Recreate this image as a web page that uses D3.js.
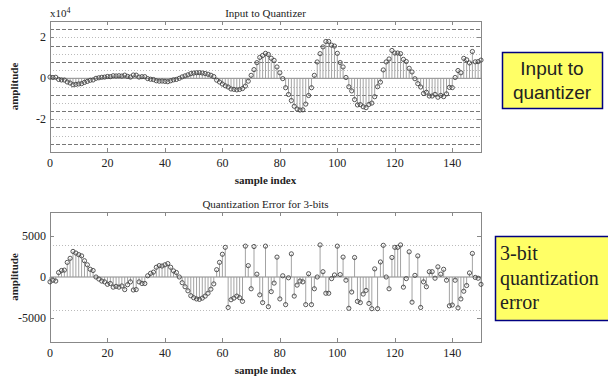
<!DOCTYPE html>
<html>
<head>
<meta charset="utf-8">
<script src="https://cdn.jsdelivr.net/npm/d3@7/dist/d3.min.js"></script>
<style>
  body { margin: 0; background: #fff; }
  svg text { fill: #222; }
</style>
</head>
<body>
<svg id="chart" width="608" height="379"></svg>
<script>
// input signal, one value per sample index 0..150
var inputSamples = [
  600, 400, 500, -550, -800, -850, -1800, -2300, -3150, -2950,
  -2750, -2600, -2000, -1500, -950, -800, 0, 250, 500, 600,
  900, 800, 1250, 1150, 1250, 1100, 1550, 950, 600, 1600,
  1550, 600, 800, 800, -150, -450, -600, -1200, -1400, -1350,
  -1500, -1650, -1200, -750, -550, 0, 700, 1200, 1700, 2300,
  2550, 2700, 2750, 2600, 2350, 2000, 1500, 850, -900, -1800,
  -2800, -3650, -4250, -5200, -5400, -5650, -5450, -5000, -3800, -1400,
  1450, 4250, 7650, 10200, 11150, 12200, 11650, 9800, 8750, 5550,
  2700, -150, -4600, -7900, -10850, -13650, -15000, -15500, -15400, -12600,
  -8400, -4600, 1450, 8000, 12050, 15350, 18000, 18000, 16200, 15750,
  12200, 7700, 5550, 400, -4150, -6150, -10400, -13000, -12850, -13900,
  -14350, -12750, -12100, -9000, -4100, -1850, 4100, 8000, 9450, 13600,
  12350, 12350, 12050, 9250, 8200, 4900, 3100, -200, -2600, -4250,
  -7400, -6800, -8650, -8650, -7850, -9250, -8350, -8950, -7600, -4450,
  -4550, 400, 3800, 2700, 9750, 9050, 7500, 13100, 8050, 8150,
  8900
];

// quantization error for 3 bits
var errorSamples = [
  -600, -400, -500, 550, 800, 850, 1800, 2300, 3150, 2950,
  2750, 2600, 2000, 1500, 950, 800, 0, -250, -500, -600,
  -900, -800, -1250, -1150, -1250, -1100, -1550, -950, -600, -1600,
  -1550, -600, -800, -800, 150, 450, 600, 1200, 1400, 1350,
  1500, 1650, 1200, 750, 550, 0, -700, -1200, -1700, -2300,
  -2550, -2700, -2750, -2600, -2350, -2000, -1500, -850, 900, 1800,
  2800, 3650, -3750, -2800, -2600, -2350, -2550, -3000, 3800, 1400,
  -1450, 3750, 350, -2200, -3150, 3800, -3650, -1800, -750, 2450,
  -2700, 150, -3400, -100, 2850, -2350, -1000, -500, -600, -3400,
  400, -3400, -1450, 0, 3950, 650, -2000, -2000, -200, 250,
  3800, 300, 2450, -400, -3850, -1850, 2400, -3000, -3150, -2100,
  -1650, -3250, -3900, 1000, -3900, 1850, 3900, 0, -1450, 2400,
  3650, 3650, 3950, -1250, -200, 3100, -3100, 200, 2600, -3750,
  -600, -1200, 650, 650, -150, 1250, 350, 950, -400, -3550,
  -3450, -400, -3800, -2700, -1750, -1050, 500, 2900, -50, -150,
  -900
];

var xTicks = [0, 20, 40, 60, 80, 100, 120, 140];
var inputTicks = [-20000, 0, 20000];
var inputTickLabels = ["-2", "0", "2"];
var errorTicks = [-5000, 0, 5000];
var errorTickLabels = ["-5000", "0", "5000"];

// quantizer output levels (dashed) and decision levels (dotted)
var outputLevels = [-32000, -24000, -16000, -8000, 8000, 16000, 24000];
var decisionLevels = [-28000, -20000, -12000, -4000, 4000, 12000, 20000];
var errorBounds = [-4000, 4000];

var SERIF = "'Liberation Serif', 'Times New Roman', 'DejaVu Serif', serif";
var SANS = "'Liberation Sans', Arial, sans-serif";

var svg = d3.select("#chart");
var left = 50, right = 481;

var x = d3.scaleLinear().domain([0, 150]).range([left, right]);

function label(g, px, py, size, txt) {
    return g.append("text").attr("x", px).attr("y", py)
        .style("font-family", SERIF).style("font-size", size + "px").text(txt);
}

function drawPanel(cfg) {
    var y = d3.scaleLinear().domain(cfg.domain).range([cfg.bottom, cfg.top]);
    var g = svg.append("g");

    // grid levels
    g.selectAll(".dotted").data(cfg.dotted).enter().append("line")
        .attr("x1", left).attr("x2", right)
        .attr("y1", function(d) { return Math.round(y(d)) + 0.5; })
        .attr("y2", function(d) { return Math.round(y(d)) + 0.5; })
        .attr("stroke", "#bbb").attr("stroke-dasharray", "1,2");
    g.selectAll(".dashed").data(cfg.dashed).enter().append("line")
        .attr("x1", left).attr("x2", right)
        .attr("y1", function(d) { return Math.round(y(d)) + 0.5; })
        .attr("y2", function(d) { return Math.round(y(d)) + 0.5; })
        .attr("stroke", "#777").attr("stroke-dasharray", "4,2");

    // frame
    g.append("rect")
        .attr("x", left + 0.5).attr("y", cfg.top + 0.5)
        .attr("width", right - left).attr("height", cfg.bottom - cfg.top)
        .attr("fill", "none").attr("stroke", "#888");

    // x ticks, inward on bottom and top
    xTicks.forEach(function(t) {
        var px = Math.round(x(t)) + 0.5;
        g.append("line").attr("x1", px).attr("x2", px)
            .attr("y1", cfg.bottom).attr("y2", cfg.bottom - 4).attr("stroke", "#888");
        g.append("line").attr("x1", px).attr("x2", px)
            .attr("y1", cfg.top).attr("y2", cfg.top + 4).attr("stroke", "#888");
        label(g, x(t), cfg.bottom + 15, 12, t).attr("text-anchor", "middle");
    });

    // y ticks, inward on left and right
    cfg.yTicks.forEach(function(t, i) {
        var py = Math.round(y(t)) + 0.5;
        g.append("line").attr("x1", left).attr("x2", left + 4)
            .attr("y1", py).attr("y2", py).attr("stroke", "#888");
        g.append("line").attr("x1", right).attr("x2", right - 4)
            .attr("y1", py).attr("y2", py).attr("stroke", "#888");
        label(g, left - 4, y(t) + 4, 12, cfg.yLabels[i]).attr("text-anchor", "end");
    });

    // baseline
    g.append("line").attr("x1", left).attr("x2", right)
        .attr("y1", y(0)).attr("y2", y(0)).attr("stroke", "#888");

    // stems
    g.selectAll(".stem").data(cfg.values).enter().append("line")
        .attr("x1", function(d, i) { return x(i); })
        .attr("x2", function(d, i) { return x(i); })
        .attr("y1", y(0))
        .attr("y2", function(d) { return y(d); })
        .attr("stroke", "#999").attr("stroke-width", 0.9);

    g.selectAll(".mark").data(cfg.values).enter().append("circle")
        .attr("cx", function(d, i) { return x(i); })
        .attr("cy", function(d) { return y(d); })
        .attr("r", 2.1)
        .attr("fill", "none").attr("stroke", "#444").attr("stroke-width", 0.9);

    // titles
    label(g, (left + right) / 2, cfg.top - 4, 11, cfg.title).attr("text-anchor", "middle");
    label(g, (left + right) / 2, cfg.bottom + 32, 11, "sample index")
        .attr("text-anchor", "middle").style("font-weight", "bold");
    label(g, 0, 0, 11, "amplitude")
        .attr("transform", "translate(18," + ((cfg.top + cfg.bottom) / 2) + ") rotate(-90)")
        .attr("text-anchor", "middle").style("font-weight", "bold");
    return g;
}

var topPanel = drawPanel({
    top: 21, bottom: 152, domain: [-36000, 28000],
    values: inputSamples, yTicks: inputTicks, yLabels: inputTickLabels,
    dashed: outputLevels, dotted: decisionLevels,
    title: "Input to Quantizer"
});

// exponent label
var expo = label(topPanel, left, 17, 11, "x10");
expo.append("tspan").attr("dy", -4).style("font-size", "8px").text("4");

drawPanel({
    top: 212, bottom: 342, domain: [-8000, 8000],
    values: errorSamples, yTicks: errorTicks, yLabels: errorTickLabels,
    dashed: [], dotted: errorBounds,
    title: "Quantization Error for 3-bits"
});

// annotation boxes
svg.append("rect").attr("x", 502.5).attr("y", 52.5).attr("width", 100).attr("height", 56)
    .attr("fill", "#ffff66").attr("stroke", "#000080").attr("stroke-width", 1.5);
["Input to", "quantizer"].forEach(function(s, i) {
    svg.append("text").attr("x", 552).attr("y", 75 + i * 24).attr("text-anchor", "middle")
        .style("font-family", SANS).style("font-size", "19px").text(s);
});

svg.append("rect").attr("x", 495.5).attr("y", 236.5).attr("width", 115).attr("height", 84)
    .attr("fill", "#ffff66").attr("stroke", "#000080").attr("stroke-width", 1.5);
["3-bit", "quantization", "error"].forEach(function(s, i) {
    label(svg, 500, 260 + i * 24.5, 20, s);
});
</script>
</body>
</html>
